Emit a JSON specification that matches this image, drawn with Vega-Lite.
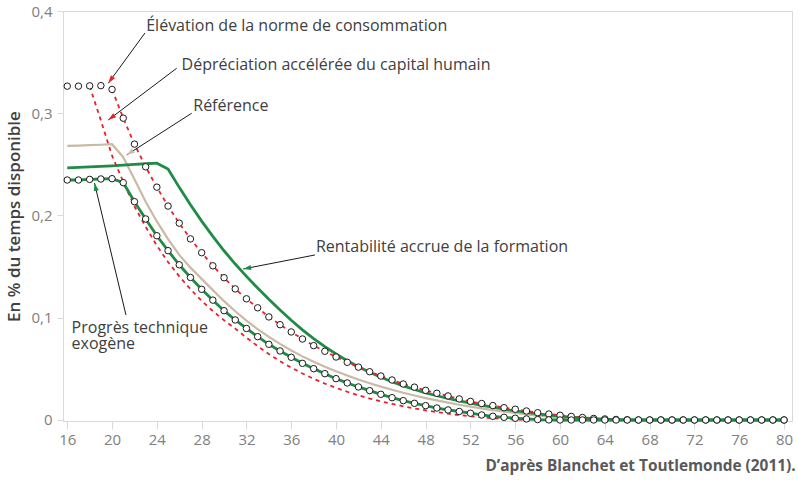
{
  "$schema": "https://vega.github.io/schema/vega-lite/v6.json",
  "width": 729,
  "height": 410,
  "autosize": {"type": "none"},
  "padding": {"left": 63, "top": 11, "right": 6, "bottom": 64},
  "background": "white",
  "config": {
    "view": {"stroke": "#d9d9d9", "strokeWidth": 1},
    "font": "Open Sans",
    "axis": {"domainColor": "#d9d9d9", "tickColor": "#d9d9d9", "labelColor": "#808080", "labelFont": "Open Sans", "labelFontSize": 15, "grid": false}
  },
  "title": {"text": "D’après Blanchet et Toutlemonde (2011).", "orient": "bottom", "anchor": "end", "fontSize": 15.4, "fontWeight": "bold", "color": "#595959", "font": "Open Sans", "offset": 12, "dx": 3},
  "datasets": {
    "courbes": [
      {"age":16,"ref":0.268,"rent":0.2465,"dep":0.3265,"elev":0.3265,"prog":0.2347},
      {"age":17,"ref":0.2684,"rent":0.247,"dep":0.3265,"elev":0.3265,"prog":0.2347},
      {"age":18,"ref":0.2688,"rent":0.2476,"dep":0.3265,"elev":0.3268,"prog":0.2353},
      {"age":19,"ref":0.2692,"rent":0.248,"dep":0.293,"elev":0.327,"prog":0.2357},
      {"age":20,"ref":0.2697,"rent":0.2486,"dep":0.2585,"elev":0.3233,"prog":0.236},
      {"age":21,"ref":0.257,"rent":0.2492,"dep":0.233,"elev":0.2952,"prog":0.2321},
      {"age":22,"ref":0.2355,"rent":0.2499,"dep":0.209,"elev":0.2698,"prog":0.2135},
      {"age":23,"ref":0.2135,"rent":0.2506,"dep":0.189,"elev":0.2476,"prog":0.1966},
      {"age":24,"ref":0.1942,"rent":0.2512,"dep":0.1705,"elev":0.2277,"prog":0.1802},
      {"age":25,"ref":0.1768,"rent":0.2455,"dep":0.1545,"elev":0.2092,"prog":0.1656},
      {"age":26,"ref":0.1615,"rent":0.2275,"dep":0.1405,"elev":0.1925,"prog":0.1518},
      {"age":27,"ref":0.149,"rent":0.2105,"dep":0.128,"elev":0.1771,"prog":0.1394},
      {"age":28,"ref":0.138,"rent":0.1945,"dep":0.1165,"elev":0.1636,"prog":0.1278},
      {"age":29,"ref":0.127,"rent":0.1795,"dep":0.1065,"elev":0.1508,"prog":0.1172},
      {"age":30,"ref":0.1162,"rent":0.1655,"dep":0.0975,"elev":0.1391,"prog":0.1069},
      {"age":31,"ref":0.1063,"rent":0.1525,"dep":0.0893,"elev":0.1282,"prog":0.0978},
      {"age":32,"ref":0.0972,"rent":0.1405,"dep":0.0805,"elev":0.1185,"prog":0.0895},
      {"age":33,"ref":0.0889,"rent":0.129,"dep":0.0722,"elev":0.1097,"prog":0.0815},
      {"age":34,"ref":0.0813,"rent":0.118,"dep":0.0645,"elev":0.1008,"prog":0.074},
      {"age":35,"ref":0.0744,"rent":0.1075,"dep":0.0575,"elev":0.0932,"prog":0.0675},
      {"age":36,"ref":0.068,"rent":0.0975,"dep":0.0512,"elev":0.0861,"prog":0.0613},
      {"age":37,"ref":0.0622,"rent":0.0882,"dep":0.0455,"elev":0.0792,"prog":0.0554},
      {"age":38,"ref":0.0569,"rent":0.0796,"dep":0.0403,"elev":0.0727,"prog":0.0502},
      {"age":39,"ref":0.052,"rent":0.0717,"dep":0.0356,"elev":0.0672,"prog":0.0453},
      {"age":40,"ref":0.0476,"rent":0.0645,"dep":0.0314,"elev":0.0616,"prog":0.0404},
      {"age":41,"ref":0.0435,"rent":0.058,"dep":0.0276,"elev":0.0564,"prog":0.0362},
      {"age":42,"ref":0.0396,"rent":0.052,"dep":0.0241,"elev":0.0517,"prog":0.0323},
      {"age":43,"ref":0.036,"rent":0.0466,"dep":0.021,"elev":0.0472,"prog":0.0287},
      {"age":44,"ref":0.0326,"rent":0.0418,"dep":0.0182,"elev":0.043,"prog":0.0251},
      {"age":45,"ref":0.0295,"rent":0.0374,"dep":0.0157,"elev":0.0391,"prog":0.0218},
      {"age":46,"ref":0.0266,"rent":0.0334,"dep":0.0134,"elev":0.0352,"prog":0.0189},
      {"age":47,"ref":0.0239,"rent":0.0298,"dep":0.0113,"elev":0.0321,"prog":0.0163},
      {"age":48,"ref":0.0214,"rent":0.0266,"dep":0.0094,"elev":0.029,"prog":0.014},
      {"age":49,"ref":0.0191,"rent":0.0237,"dep":0.0077,"elev":0.0261,"prog":0.0117},
      {"age":50,"ref":0.0169,"rent":0.021,"dep":0.0062,"elev":0.0235,"prog":0.0098},
      {"age":51,"ref":0.0149,"rent":0.0186,"dep":0.0048,"elev":0.0206,"prog":0.0083},
      {"age":52,"ref":0.013,"rent":0.0164,"dep":0.0036,"elev":0.0182,"prog":0.0066},
      {"age":53,"ref":0.0113,"rent":0.0144,"dep":0.0026,"elev":0.0161,"prog":0.0049},
      {"age":54,"ref":0.0097,"rent":0.0126,"dep":0.0017,"elev":0.0141,"prog":0.0036},
      {"age":55,"ref":0.0082,"rent":0.0105,"dep":0.001,"elev":0.012,"prog":0.0026},
      {"age":56,"ref":0.0068,"rent":0.0089,"dep":0.0005,"elev":0.0105,"prog":0.0017},
      {"age":57,"ref":0.0055,"rent":0.0074,"dep":0.0001,"elev":0.0088,"prog":0.001},
      {"age":58,"ref":0.0043,"rent":0.006,"dep":0,"elev":0.0071,"prog":0.0004},
      {"age":59,"ref":0.0032,"rent":0.0048,"dep":0,"elev":0.0058,"prog":0.0001},
      {"age":60,"ref":0.0023,"rent":0.0037,"dep":0,"elev":0.0046,"prog":0},
      {"age":61,"ref":0.0015,"rent":0.0028,"dep":0,"elev":0.0035,"prog":0},
      {"age":62,"ref":0.0009,"rent":0.002,"dep":0,"elev":0.0024,"prog":0},
      {"age":63,"ref":0.0004,"rent":0.0013,"dep":0,"elev":0.0015,"prog":0},
      {"age":64,"ref":0.0001,"rent":0.0008,"dep":0,"elev":0.001,"prog":0},
      {"age":65,"ref":0,"rent":0.0004,"dep":0,"elev":0.0005,"prog":0},
      {"age":66,"ref":0,"rent":0.0001,"dep":0,"elev":0.0002,"prog":0},
      {"age":67,"ref":0,"rent":0,"dep":0,"elev":0,"prog":0},
      {"age":68,"ref":0,"rent":0,"dep":0,"elev":0,"prog":0},
      {"age":69,"ref":0,"rent":0,"dep":0,"elev":0,"prog":0},
      {"age":70,"ref":0,"rent":0,"dep":0,"elev":0,"prog":0},
      {"age":71,"ref":0,"rent":0,"dep":0,"elev":0,"prog":0},
      {"age":72,"ref":0,"rent":0,"dep":0,"elev":0,"prog":0},
      {"age":73,"ref":0,"rent":0,"dep":0,"elev":0,"prog":0},
      {"age":74,"ref":0,"rent":0,"dep":0,"elev":0,"prog":0},
      {"age":75,"ref":0,"rent":0,"dep":0,"elev":0,"prog":0},
      {"age":76,"ref":0,"rent":0,"dep":0,"elev":0,"prog":0},
      {"age":77,"ref":0,"rent":0,"dep":0,"elev":0,"prog":0},
      {"age":78,"ref":0,"rent":0,"dep":0,"elev":0,"prog":0},
      {"age":79,"ref":0,"rent":0,"dep":0,"elev":0,"prog":0},
      {"age":80,"ref":0,"rent":0,"dep":0,"elev":0,"prog":0}
    ],
    "fleches": [
      {"serie":"Élévation","x0":22.94,"y0":0.3785,"x1":19.66,"y1":0.3293},
      {"serie":"Dépréciation","x0":25.77,"y0":0.344,"x1":19.66,"y1":0.2934},
      {"serie":"Référence","x0":27.11,"y0":0.300,"x1":21.3,"y1":0.2592},
      {"serie":"Rentabilité","x0":38.12,"y0":0.1614,"x1":31.71,"y1":0.1477},
      {"serie":"Progrès","x0":21.24,"y0":0.1027,"x1":18.43,"y1":0.2318}
    ],
    "textes": [
      {"x":23.05,"y":0.3804,"texte":"Élévation de la norme de consommation"},
      {"x":26.21,"y":0.342,"texte":"Dépréciation accélérée du capital humain"},
      {"x":27.25,"y":0.3022,"texte":"Référence"},
      {"x":38.2,"y":0.1643,"texte":"Rentabilité accrue de la formation"},
      {"x":16.39,"y":0.0848,"texte":"Progrès technique"},
      {"x":16.39,"y":0.0691,"texte":"exogène"}
    ]
  },
  "layer": [
    {
      "data": {"name": "courbes"},
      "mark": {"type": "line", "color": "#c9baa5", "strokeWidth": 2.2},
      "encoding": {
        "x": {"field": "age", "type": "quantitative", "title": null, "scale": {"domain": [15.62, 80.71], "nice": false, "zero": false},
              "axis": {"values": [16,20,24,28,32,36,40,44,48,52,56,60,64,68,72,76,80], "tickSize": 8, "labelPadding": 3, "labelFlush": false}},
        "y": {"field": "ref", "type": "quantitative", "title": "En % du temps disponible", "scale": {"domain": [-0.001, 0.4], "nice": false},
              "axis": {"values": [0,0.1,0.2,0.3,0.4], "titleFontSize": 17, "titleFontWeight": 600, "titleColor": "#404040", "titleFont": "Open Sans", "titlePadding": 7, "tickSize": 6, "labelPadding": 5,
                       "labelExpr": "datum.value == 0 ? '0' : replace(format(datum.value, '.1f'), '.', ',')"}}
      }
    },
    {
      "data": {"name": "courbes"},
      "mark": {"type": "line", "color": "#1e8c45", "strokeWidth": 2.8},
      "encoding": {
        "x": {"field": "age", "type": "quantitative", "title": null},
        "y": {"field": "rent", "type": "quantitative", "title": "En % du temps disponible"}
      }
    },
    {
      "data": {"name": "courbes"},
      "transform": [{"filter": "datum.age >= 18"}],
      "mark": {"type": "line", "color": "#e8212b", "strokeWidth": 1.8, "strokeDash": [4, 4]},
      "encoding": {
        "x": {"field": "age", "type": "quantitative", "title": null},
        "y": {"field": "dep", "type": "quantitative", "title": "En % du temps disponible"}
      }
    },
    {
      "data": {"name": "courbes"},
      "transform": [{"filter": "datum.age >= 20"}],
      "mark": {"type": "line", "color": "#e8212b", "strokeWidth": 1.8, "strokeDash": [4, 4]},
      "encoding": {
        "x": {"field": "age", "type": "quantitative", "title": null},
        "y": {"field": "elev", "type": "quantitative", "title": "En % du temps disponible"}
      }
    },
    {
      "data": {"name": "courbes"},
      "mark": {"type": "line", "color": "#1e8c45", "strokeWidth": 2.8},
      "encoding": {
        "x": {"field": "age", "type": "quantitative", "title": null},
        "y": {"field": "prog", "type": "quantitative", "title": "En % du temps disponible"}
      }
    },
    {
      "data": {"name": "courbes"},
      "mark": {"type": "circle", "filled": true, "color": "white", "stroke": "#1a1a1a", "strokeWidth": 1, "size": 42, "opacity": 1},
      "encoding": {
        "x": {"field": "age", "type": "quantitative", "title": null},
        "y": {"field": "elev", "type": "quantitative", "title": "En % du temps disponible"}
      }
    },
    {
      "data": {"name": "courbes"},
      "mark": {"type": "circle", "filled": true, "color": "white", "stroke": "#1a1a1a", "strokeWidth": 1, "size": 42, "opacity": 1},
      "encoding": {
        "x": {"field": "age", "type": "quantitative", "title": null},
        "y": {"field": "prog", "type": "quantitative", "title": "En % du temps disponible"}
      }
    },
    {
      "data": {"name": "fleches"},
      "mark": {"type": "rule", "color": "#1a1a1a", "strokeWidth": 1},
      "encoding": {
        "x": {"field": "x0", "type": "quantitative", "title": null},
        "y": {"field": "y0", "type": "quantitative", "title": "En % du temps disponible"},
        "x2": {"field": "x1"},
        "y2": {"field": "y1"}
      }
    },
    {
      "data": {"name": "fleches"},
      "transform": [{"calculate": "atan2((datum.x1 - datum.x0) * 11.2, (datum.y1 - datum.y0) * 1022.4) * 180 / PI", "as": "angle"}],
      "mark": {"type": "point", "shape": "M0,0L-0.32,1L0.32,1Z", "filled": true, "size": 256, "opacity": 1},
      "encoding": {
        "x": {"field": "x1", "type": "quantitative", "title": null},
        "y": {"field": "y1", "type": "quantitative", "title": "En % du temps disponible"},
        "angle": {"field": "angle", "type": "quantitative", "scale": null},
        "color": {"field": "serie", "type": "nominal", "legend": null,
                  "scale": {"domain": ["Élévation", "Dépréciation", "Référence", "Rentabilité", "Progrès"], "range": ["#e8212b", "#e8212b", "#c9baa5", "#1e8c45", "#1e8c45"]}}
      }
    },
    {
      "data": {"name": "textes"},
      "mark": {"type": "text", "align": "left", "baseline": "alphabetic", "font": "Open Sans", "fontSize": 16, "color": "#404040"},
      "encoding": {
        "x": {"field": "x", "type": "quantitative", "title": null},
        "y": {"field": "y", "type": "quantitative", "title": "En % du temps disponible"},
        "text": {"field": "texte"}
      }
    }
  ]
}
